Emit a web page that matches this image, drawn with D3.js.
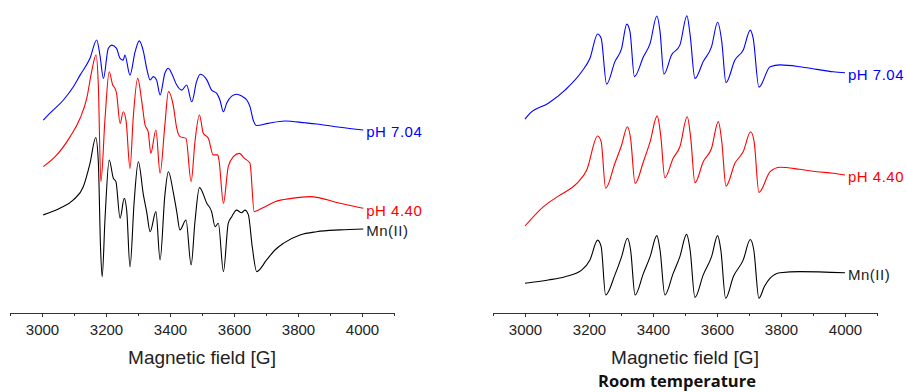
<!DOCTYPE html>
<html>
<head>
<meta charset="utf-8">
<script src="https://cdn.jsdelivr.net/npm/d3@7"></script>
<style>
    body { margin: 0; background: #fff; }
    svg { display: block; font-family: "Liberation Sans", Arial, sans-serif; }
    .axis path, .axis line { stroke: #333; }
    .axis text { fill: #222; font-size: 15px; }
</style>
</head>
<body>
<div id="chart"></div>
<script>
// field [G], signal [a.u.]  -- frozen solution (left panel)
const frozenPH704 = [[3004,64.3],[3025,66.6],[3067,71.0],[3098,75.4],[3119,79.3],[3150,84.9],[3171,91.0],[3181,86.0],[3192,78.2],[3207,88.2],[3218,89.3],[3233,88.2],[3244,84.9],[3254,84.3],[3259,86.0],[3275,79.3],[3291,87.1],[3304,90.7],[3317,87.1],[3327,81.6],[3338,77.7],[3348,78.8],[3358,77.7],[3369,72.7],[3384,79.9],[3395,81.6],[3405,79.9],[3421,76.0],[3437,74.3],[3452,76.0],[3468,70.4],[3483,77.1],[3494,79.6],[3515,77.7],[3530,74.3],[3546,73.2],[3556,71.0],[3567,67.1],[3577,69.9],[3593,72.3],[3608,72.9],[3624,72.3],[3640,71.0],[3650,68.8],[3660,64.3],[3671,62.5],[3707,63.2],[3759,64.0],[3822,63.4],[3858,63.0],[3931,61.9],[4004,61.0]];
const frozenPH440 = [[3004,48.8],[3041,52.1],[3088,58.8],[3119,64.9],[3140,71.6],[3155,80.4],[3169,86.0],[3176,76.0],[3184,43.8],[3197,64.9],[3210,80.4],[3221,76.0],[3228,74.9],[3233,73.2],[3244,63.2],[3254,67.1],[3263,63.8],[3275,48.2],[3285,64.9],[3299,78.2],[3312,70.4],[3322,62.7],[3332,60.4],[3340,53.2],[3356,61.0],[3369,46.6],[3384,62.7],[3395,73.8],[3410,69.3],[3421,61.6],[3431,58.8],[3450,58.2],[3466,43.8],[3478,57.1],[3492,66.0],[3504,59.9],[3520,58.2],[3535,52.7],[3549,52.7],[3553,51.0],[3567,36.6],[3582,48.8],[3598,52.1],[3617,53.2],[3632,51.6],[3650,49.9],[3663,33.8],[3687,34.9],[3728,37.1],[3780,38.2],[3838,38.8],[3931,36.6],[4004,34.9]];
const frozenMn = [[3004,32.7],[3056,34.9],[3098,37.7],[3129,42.1],[3150,49.9],[3168,58.5],[3176,50.4],[3183,21.6],[3188,12.1],[3197,31.6],[3210,51.0],[3223,44.9],[3231,43.8],[3244,31.6],[3257,38.2],[3265,33.8],[3275,15.4],[3288,37.1],[3301,50.4],[3317,39.3],[3327,33.8],[3338,27.1],[3356,33.8],[3369,17.7],[3384,39.3],[3395,47.1],[3410,40.4],[3421,33.8],[3431,27.7],[3450,31.0],[3466,16.0],[3478,30.4],[3492,41.8],[3515,36.6],[3530,33.8],[3541,28.8],[3551,29.9],[3567,13.8],[3582,29.9],[3593,32.1],[3608,34.3],[3624,33.4],[3634,34.3],[3645,32.7],[3657,22.1],[3671,13.8],[3702,17.7],[3728,21.0],[3754,23.2],[3806,26.0],[3858,27.1],[3931,27.7],[4004,28.0]];

// room temperature (right panel)
const roomPH704 = [[3000,64.6],[3016,66.6],[3073,69.9],[3125,74.3],[3177,80.4],[3203,84.9],[3227,93.0],[3238,91.6],[3255,76.3],[3281,83.8],[3302,88.2],[3318,96.3],[3328,93.8],[3342,78.8],[3370,85.4],[3391,89.9],[3412,99.0],[3422,93.8],[3434,79.6],[3458,86.0],[3484,89.3],[3506,99.1],[3516,92.7],[3531,78.2],[3557,83.8],[3583,88.8],[3602,96.9],[3615,90.4],[3628,76.8],[3656,84.3],[3682,87.7],[3704,94.3],[3713,91.6],[3731,75.3],[3766,82.1],[3797,82.7],[3859,82.1],[3912,81.2],[3963,80.4],[4000,80.1]];
const roomPH440 = [[3000,29.0],[3057,35.4],[3109,39.3],[3162,43.2],[3193,47.7],[3227,59.0],[3238,57.1],[3252,41.6],[3281,49.9],[3302,56.0],[3320,62.1],[3330,58.2],[3344,43.2],[3370,50.4],[3391,57.1],[3413,65.7],[3424,59.3],[3437,45.1],[3463,51.6],[3484,55.4],[3507,65.4],[3518,58.2],[3531,43.4],[3557,50.4],[3583,54.9],[3604,63.8],[3615,57.1],[3628,42.3],[3656,49.9],[3682,53.8],[3705,60.4],[3716,57.1],[3731,40.2],[3766,47.1],[3797,48.6],[3859,47.9],[3912,47.1],[3963,46.6],[4000,46.0]];
const roomMn = [[3000,9.9],[3073,11.0],[3125,12.1],[3177,14.3],[3203,17.7],[3227,24.3],[3238,22.1],[3252,6.0],[3281,12.7],[3302,18.8],[3320,24.9],[3330,21.0],[3344,6.0],[3370,13.2],[3391,18.8],[3412,25.8],[3422,21.0],[3437,6.0],[3463,13.2],[3484,18.8],[3505,26.2],[3516,21.0],[3531,5.2],[3557,12.7],[3583,18.8],[3602,25.8],[3612,21.0],[3627,4.9],[3651,12.1],[3682,17.7],[3704,24.5],[3715,21.0],[3731,4.9],[3748,8.8],[3766,11.6],[3797,13.4],[3859,13.8],[4000,13.4]];

const seriesNames = ["pH 7.04", "pH 4.40", "Mn(II)"];
const seriesColors = ["#0000ff", "#ff0000", "#000000"];
const majorTicks = [3000, 3200, 3400, 3600, 3800, 4000];
const minorTicks = [2900, 3100, 3300, 3500, 3700, 3900, 4100];
const fieldDomain = [2900, 4100];
const xTitle = "Magnetic field [G]";

const svg = d3.select("#chart").append("svg")
    .attr("width", 907)
    .attr("height", 392);

class SpectrumPanel {
    constructor(svg, left, spectra) {
        this.svg = svg;
        this.left = left;
        this.spectra = spectra;
        this.initVis();
    }

    initVis() {
        let vis = this;
        vis.width = 384;
        vis.axisY = 313;
        vis.g = vis.svg.append("g")
            .attr("transform", `translate(${vis.left}, 0)`);

        vis.xScale = d3.scaleLinear().domain(fieldDomain).range([0, vis.width]);
        vis.yScale = d3.scaleLinear().domain([0, 100]).range([vis.axisY, vis.axisY - 300]);

        vis.updateVis();
    }

    updateVis() {
        let vis = this;

        // minor ticks first, then labelled major ticks
        vis.g.append("g")
            .attr("class", "axis")
            .attr("transform", `translate(0, ${vis.axisY})`)
            .call(d3.axisBottom(vis.xScale).tickValues(minorTicks).tickSize(3).tickSizeOuter(0).tickFormat(""));
        vis.g.append("g")
            .attr("class", "axis")
            .attr("transform", `translate(0, ${vis.axisY})`)
            .call(d3.axisBottom(vis.xScale).tickValues(majorTicks).tickSize(4).tickSizeOuter(0).tickPadding(7).tickFormat(d3.format("d")))
            .select(".domain").remove();

        vis.g.append("text")
            .attr("x", vis.width / 2)
            .attr("y", 364)
            .attr("text-anchor", "middle")
            .attr("fill", "#222")
            .style("font-size", "19px")
            .text(xTitle);

        const line = d3.line()
            .x(d => vis.xScale(d[0]))
            .y(d => vis.yScale(d[1]))
            .curve(d3.curveMonotoneX);

        vis.spectra.forEach((s, i) => {
            vis.g.append("path")
                .datum(s)
                .attr("fill", "none")
                .attr("stroke", seriesColors[i])
                .attr("stroke-width", 1.1)
                .attr("stroke-linejoin", "round")
                .attr("d", line);

            const last = s[s.length - 1];
            vis.g.append("text")
                .attr("x", vis.xScale(last[0]) + 3)
                .attr("y", vis.yScale(last[1]) + 2)
                .attr("dy", "0.35em")
                .attr("fill", seriesColors[i] === "#000000" ? "#222" : seriesColors[i])
                .style("font-size", "15px")
                .style("letter-spacing", "0.5px")
                .text(seriesNames[i]);
        });
    }
}

new SpectrumPanel(svg, 10, [frozenPH704, frozenPH440, frozenMn]);
new SpectrumPanel(svg, 493, [roomPH704, roomPH440, roomMn]);

svg.append("text")
    .attr("x", 677)
    .attr("y", 387)
    .attr("text-anchor", "middle")
    .attr("fill", "#111")
    .style("font-family", "'Open Sans', sans-serif")
    .style("font-weight", "bold")
    .style("font-size", "16.5px")
    .text("Room temperature");
</script>
</body>
</html>
